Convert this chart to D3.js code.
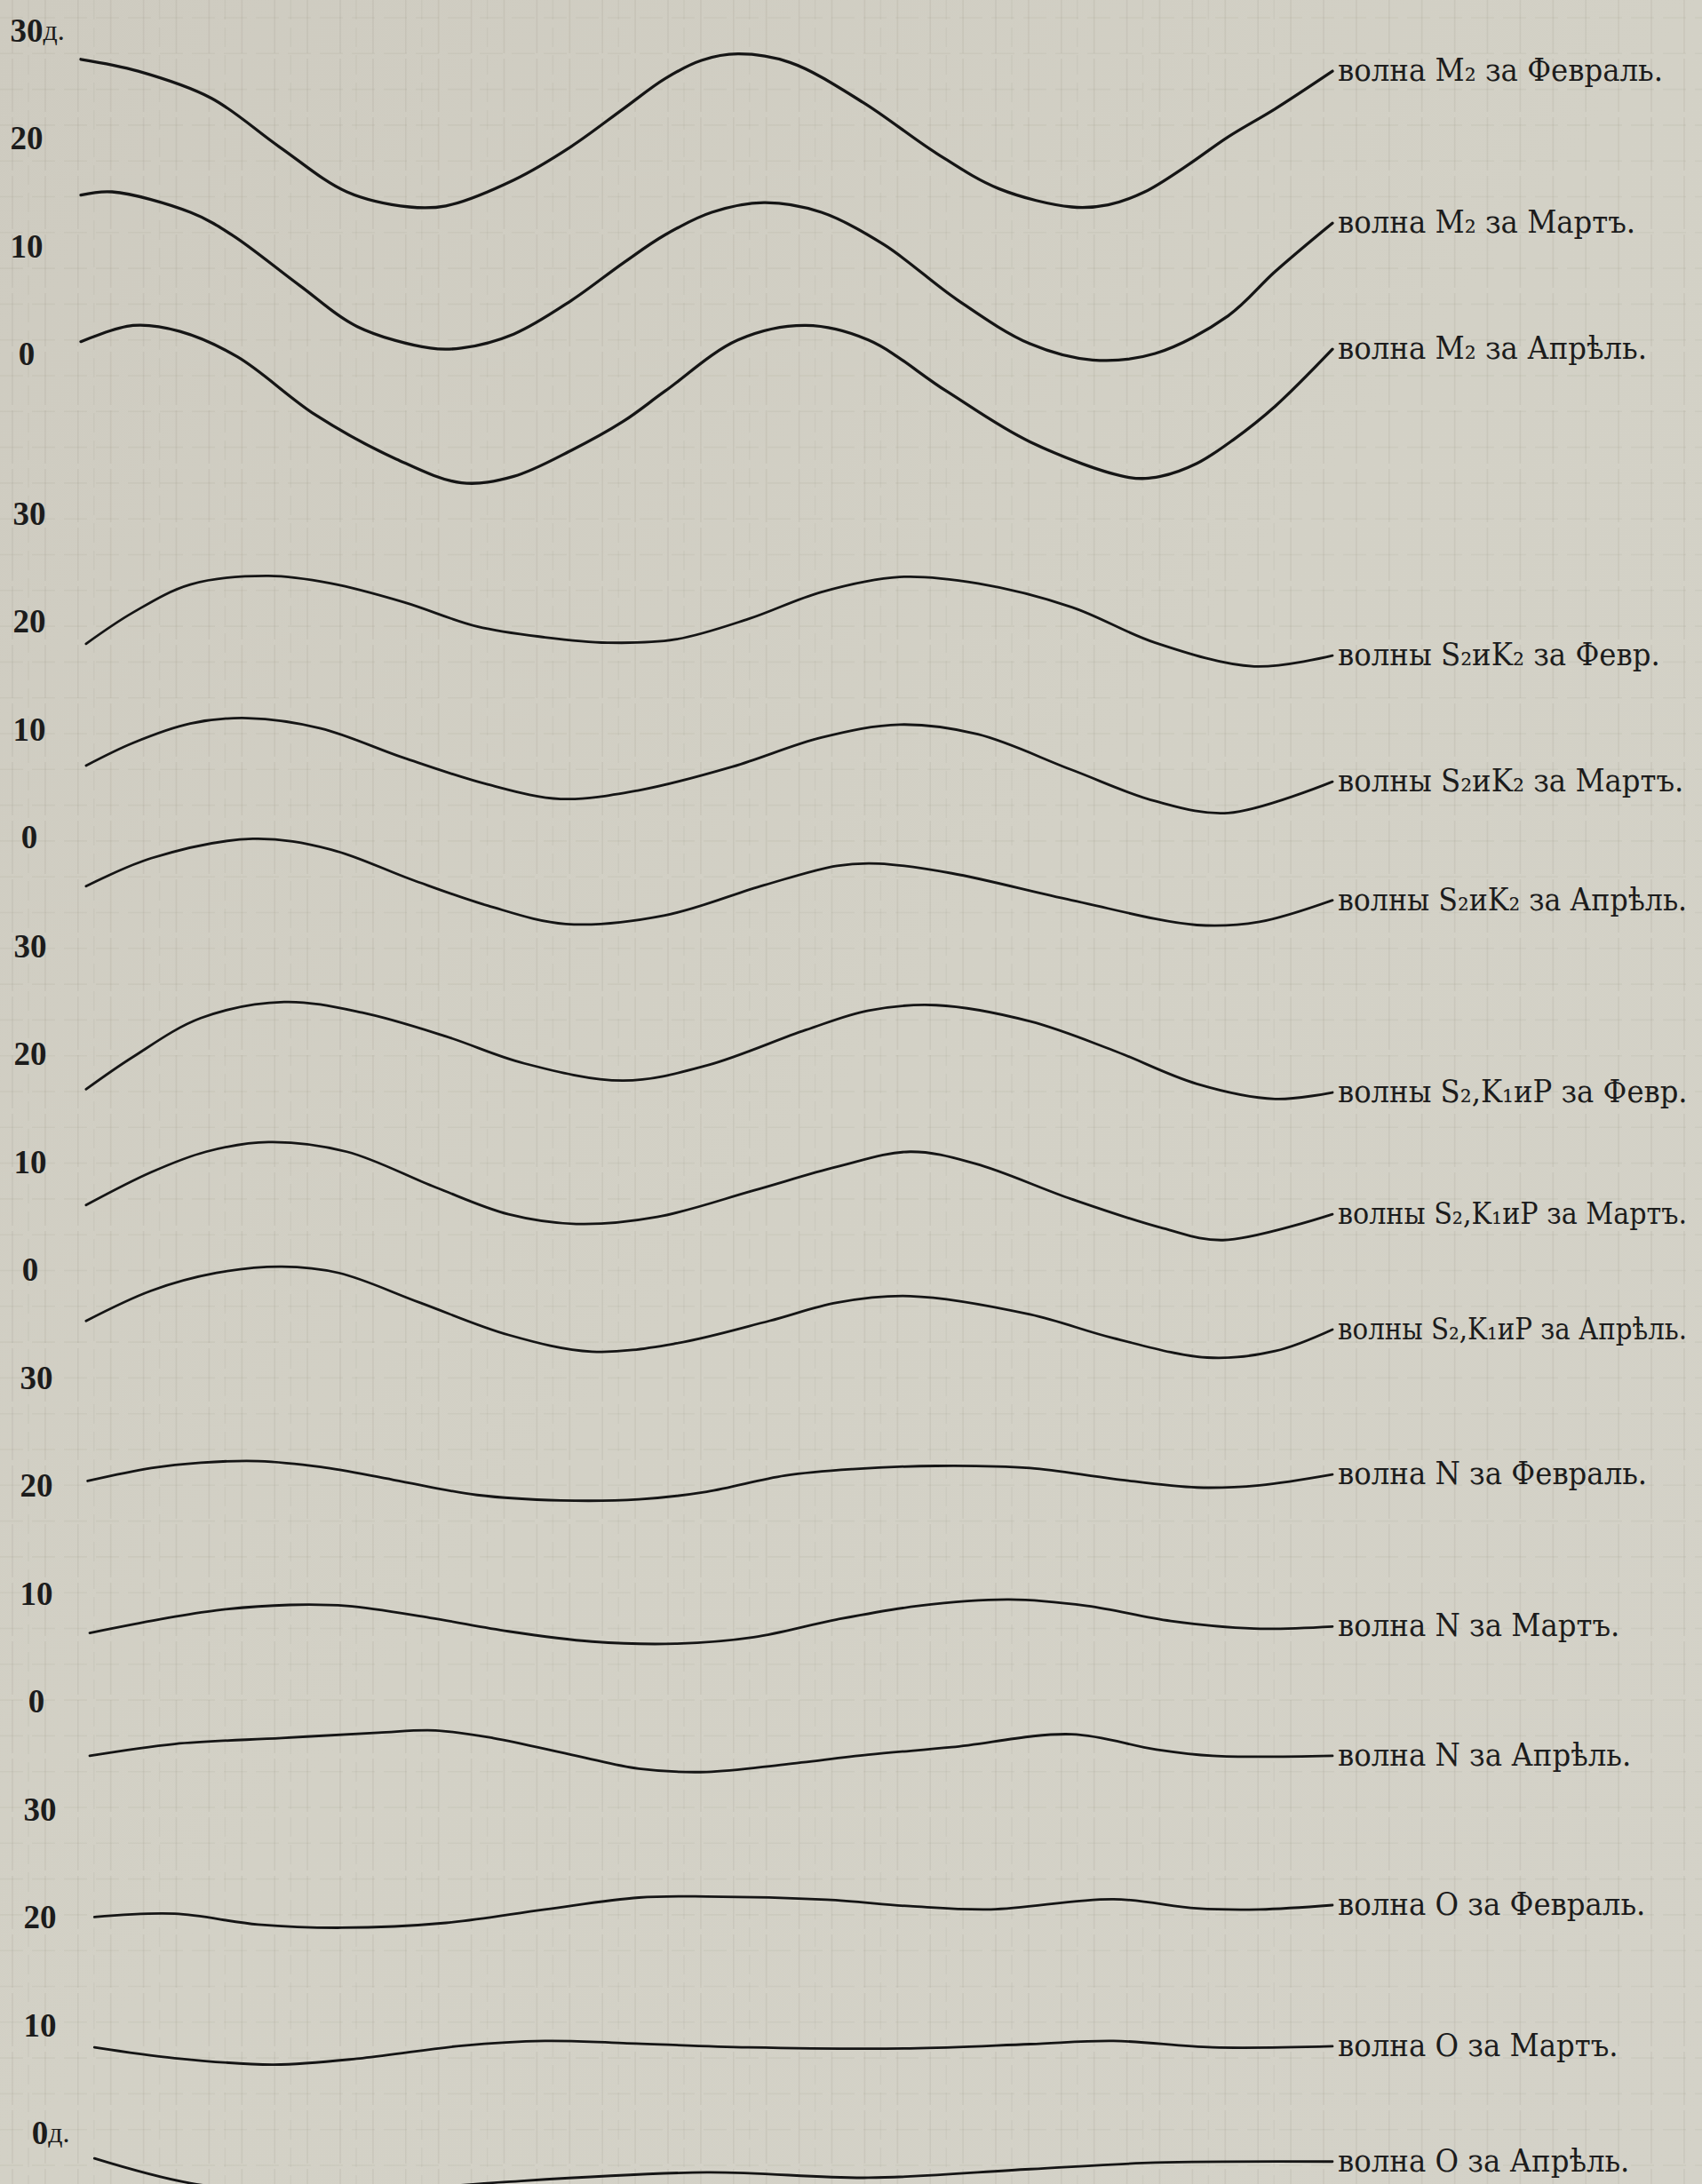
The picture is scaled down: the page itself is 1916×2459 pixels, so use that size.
<!DOCTYPE html>
<html><head><meta charset="utf-8">
<script src="https://cdn.jsdelivr.net/npm/d3@7"></script>
<style>
html,body{margin:0;padding:0;background:#d0cec3;}
svg{display:block}
</style></head><body>
<svg id="chart" width="1916" height="2459"></svg>
<script>
// ---------------- data ----------------
const hourDomain = [0, 24];
const tickValues = [30, 20, 10, 0];
const groupNames = ["M2", "S2K2", "S2K1P", "N", "O"];
const tickLabels = [
  ["30д.", "20", "10", "0"],
  ["30", "20", "10", "0"],
  ["30", "20", "10", "0"],
  ["30", "20", "10", "0"],
  ["30", "20", "10", "0д."]
];

const m2Feb = [[0,27.3],[1.1,26.2],[2.5,23.7],[3.8,19.2],[5.1,15.0],[6.3,13.6],[7.0,13.7],[8.3,16.1],[9.4,19.2],[10.4,22.7],[11.2,25.5],[11.9,27.2],[12.6,27.8],[13.6,27.0],[15.0,23.3],[16.4,18.6],[17.6,15.3],[19.0,13.6],[19.7,13.8],[20.4,15.0],[21.2,17.4],[22.0,20.1],[22.9,22.7],[24,26.2]];
const m2Mar = [[0,14.7],[0.6,15.0],[2.1,13.1],[2.9,11.0],[4.2,6.3],[5.3,2.5],[6.7,0.5],[7.3,0.5],[8.3,1.8],[9.4,4.9],[10.4,8.4],[11.2,11.0],[12.1,13.1],[13.1,14.0],[14.2,13.1],[15.4,10.1],[16.8,5.0],[18.2,0.9],[19.4,-0.6],[20.6,0.0],[22.0,3.5],[22.9,7.6],[24,12.1]];
const m2Apr = [[0,1.1],[1.0,2.6],[1.9,2.05],[3.0,-0.3],[4.5,-5.7],[6.05,-9.8],[7.3,-12.0],[8.3,-11.4],[9.4,-9.0],[10.4,-6.3],[11.2,-3.5],[12.6,1.25],[13.9,2.6],[15.1,1.25],[16.6,-3.5],[18.2,-8.2],[20.1,-11.5],[20.7,-11.4],[21.4,-10.2],[22.1,-8.0],[22.9,-4.9],[24,0.4]];

const s2k2Feb = [[0.1,17.9],[1.0,20.8],[2.1,23.4],[3.6,24.2],[4.8,23.5],[6.2,21.75],[7.6,19.5],[8.9,18.5],[10.1,18.0],[11.4,18.3],[12.8,20.2],[14.2,22.7],[15.7,24.1],[17.2,23.5],[19.0,21.3],[20.6,18.0],[22.5,15.8],[24,16.8]];
const s2k2Mar = [[0.1,6.6],[1.0,8.7],[2.1,10.5],[3.2,11.0],[4.6,10.05],[6.2,7.3],[7.8,4.85],[9.2,3.5],[10.7,4.3],[12.5,6.5],[14.2,9.2],[15.7,10.4],[17.2,9.5],[19.0,6.2],[20.6,3.3],[22.0,2.2],[24,5.1]];
const s2k2Apr = [[0.1,-4.6],[1.35,-2.0],[3.3,-0.2],[4.8,-1.2],[6.35,-4.0],[7.8,-6.4],[9.3,-8.1],[11.2,-7.3],[13.1,-4.5],[14.5,-2.7],[15.3,-2.5],[16.7,-3.4],[19.0,-5.9],[21.4,-8.2],[22.6,-7.9],[24,-5.9]];

const s2k1pFeb = [[0.1,16.7],[1.0,19.7],[2.3,23.3],[3.9,24.8],[5.4,23.8],[7.0,21.6],[8.5,19.1],[10.4,17.5],[12.0,18.9],[13.9,22.2],[15.1,24.0],[16.4,24.5],[18.2,23.0],[19.8,20.3],[21.4,17.2],[22.9,15.8],[24,16.4]];
const s2k1pMar = [[0.1,5.95],[1.35,9.0],[2.4,10.9],[3.6,11.8],[5.1,10.9],[6.8,7.6],[8.2,5.1],[9.5,4.2],[11.05,4.85],[12.9,7.3],[14.5,9.5],[15.9,10.9],[17.15,9.8],[19.0,6.5],[20.75,3.8],[21.9,2.7],[24,5.1]];
const s2k1pApr = [[0.1,-4.8],[1.35,-2.0],[2.6,-0.35],[3.85,0.24],[4.95,-0.35],[6.5,-3.1],[8.2,-6.1],[9.8,-7.65],[11.4,-6.9],[13.2,-4.8],[14.5,-3.1],[15.9,-2.5],[18.2,-4.2],[19.8,-6.4],[21.6,-8.2],[22.9,-7.6],[24,-5.6]];

const nFeb = [[0.13,20.4],[1.35,21.6],[2.3,22.1],[3.4,22.25],[4.6,21.7],[6.0,20.5],[7.6,19.1],[9.2,18.6],[10.7,18.7],[12.0,19.4],[13.5,20.9],[14.8,21.5],[16.4,21.8],[18.2,21.6],[19.8,20.6],[21.4,19.8],[22.6,20.0],[24,21.0]];
const nMar = [[0.17,6.3],[1.5,7.55],[2.6,8.4],[4.0,8.9],[5.1,8.8],[6.7,7.7],[8.2,6.45],[9.8,5.5],[11.4,5.3],[12.9,5.9],[14.5,7.55],[16.05,8.8],[17.8,9.4],[19.3,8.8],[20.9,7.4],[22.5,6.7],[24,6.9]];
const nApr = [[0.17,-5.1],[1.8,-4.0],[3.85,-3.45],[5.7,-2.95],[6.8,-2.75],[7.9,-3.45],[9.5,-5.1],[10.7,-6.3],[12.0,-6.6],[13.5,-5.9],[15.1,-5.0],[16.7,-4.3],[19.0,-3.1],[20.6,-4.5],[21.7,-5.1],[24,-5.1]];

const oFeb = [[0.26,20.0],[1.8,20.3],[3.4,19.3],[5.0,19.0],[7.0,19.45],[8.9,20.7],[10.7,21.8],[12.0,21.9],[14.3,21.6],[15.9,21.0],[17.45,20.7],[19.8,21.65],[21.4,20.8],[22.6,20.7],[24,21.1]];
const oMar = [[0.26,7.9],[1.8,6.9],[3.7,6.3],[5.4,6.9],[7.3,8.05],[8.9,8.5],[10.4,8.3],[12.8,7.9],[15.9,7.8],[18.2,8.2],[19.8,8.5],[21.7,7.9],[24,8.0]];
const oApr = [[0.26,-2.4],[2.1,-4.7],[4.5,-5.8],[6.5,-5.2],[8.1,-4.6],[12.0,-3.7],[15.1,-4.2],[18.2,-3.4],[20.6,-2.8],[24,-2.7]];

const seriesGroups = [0,0,0, 1,1,1, 2,2,2, 3,3,3, 4,4,4];
const seriesLabels = [
  "волна M₂ за Февраль.", "волна M₂ за Мартъ.", "волна M₂ за Апрѣль.",
  "волны S₂иK₂ за Февр.", "волны S₂иK₂ за Мартъ.", "волны S₂иK₂ за Апрѣль.",
  "волны S₂,K₁иP за Февр.", "волны S₂,K₁иP за Мартъ.", "волны S₂,K₁иP за Апрѣль.",
  "волна N за Февраль.", "волна N за Мартъ.", "волна N за Апрѣль.",
  "волна O за Февраль.", "волна O за Мартъ.", "волна O за Апрѣль."
];
const seriesValues = [m2Feb, m2Mar, m2Apr, s2k2Feb, s2k2Mar, s2k2Apr, s2k1pFeb, s2k1pMar, s2k1pApr, nFeb, nMar, nApr, oFeb, oMar, oApr];

// ---------------- layout ----------------
const W = 1916, H = 2459;
const xRange = [91, 1500];
const groupRanges = [[398,34],[942,578],[1429,1065],[1915,1551],[2401,2037]];
const tickX = [30, 33, 34, 41, 45];
const labelMaxRight = 1900;
const labelFont = 36;

const svg = d3.select("#chart");
const x = d3.scaleLinear().domain(hourDomain).range(xRange);
const yScales = groupRanges.map(r => d3.scaleLinear().domain([0, 30]).range(r));

// paper background
const defs = svg.append("defs");
const grad = defs.append("linearGradient").attr("id","paper").attr("x1",0).attr("y1",0).attr("x2",1).attr("y2",1);
grad.append("stop").attr("offset","0%").attr("stop-color","#cecbc0");
grad.append("stop").attr("offset","50%").attr("stop-color","#d3d1c6");
grad.append("stop").attr("offset","100%").attr("stop-color","#d4d2c8");
svg.append("rect").attr("width",W).attr("height",H).attr("fill","url(#paper)");

// faint bleed-through grid
const grid = svg.append("g").attr("stroke","#8a8673").attr("fill","none");
grid.selectAll("line.v1").data(d3.range(14, W, 36.9)).join("line")
  .attr("x1",d=>d).attr("x2",d=>d).attr("y1",0).attr("y2",H)
  .attr("stroke-opacity",0.13).attr("stroke-width",1.6).attr("stroke-dasharray","60 6");
grid.selectAll("line.v2").data(d3.range(32, 1500, 73.8)).join("line")
  .attr("x1",d=>d).attr("x2",d=>d).attr("y1",0).attr("y2",H)
  .attr("stroke-opacity",0.09).attr("stroke-width",1.4).attr("stroke-dasharray","22 9");
grid.selectAll("line.h1").data(d3.range(20, H, 40.3)).join("line")
  .attr("x1",0).attr("x2",W).attr("y1",d=>d).attr("y2",d=>d)
  .attr("stroke-opacity",0.09).attr("stroke-width",1.6).attr("stroke-dasharray","26 10");

// left axis labels
const axisG = svg.append("g").attr("font-family","'Liberation Serif','DejaVu Serif',serif")
  .attr("font-weight","bold").attr("font-size",37).attr("fill","#1c1c1c");
tickLabels.forEach((labels, gi) => {
  labels.forEach((lab, ti) => {
    const m = lab.match(/^(\d+)(.*)$/);
    const y = yScales[gi](tickValues[ti]);
    const t = axisG.append("text").attr("y", y).attr("dominant-baseline","central");
    const num = t.append("tspan").text(m[1]);
    const w = num.node().getComputedTextLength();
    t.attr("x", tickX[gi] - w/2);
    if (m[2]) t.append("tspan").attr("font-size",32).attr("font-weight","normal").text(m[2]);
  });
});

// curves
const line = d3.line().x(d => x(d[0])).y(d => d.y).curve(d3.curveCatmullRom.alpha(0.5));
const curveG = svg.append("g").attr("fill","none").attr("stroke","#151515")
  .attr("stroke-linecap","round").attr("stroke-linejoin","round");
seriesValues.forEach((vals, i) => {
  const ys = yScales[seriesGroups[i]];
  const pts = vals.map(d => { const p = [d[0], d[1]]; p.y = ys(d[1]); return p; });
  curveG.append("path").attr("d", line(pts))
    .attr("stroke-width", seriesGroups[i] === 0 ? 3.3 : 2.8);
});

// right labels
const labG = svg.append("g")
  .attr("font-family","'DejaVu Serif Condensed','DejaVu Serif',serif")
  .attr("font-stretch","condensed").attr("fill","#1c1c1c");
seriesValues.forEach((vals, i) => {
  const last = vals[vals.length - 1];
  const ys = yScales[seriesGroups[i]];
  const lx = x(last[0]) + 6;
  const t = labG.append("text").attr("x", lx).attr("y", ys(last[1]) + 11)
    .attr("font-size", labelFont).text(seriesLabels[i]);
  const natural = t.node().getComputedTextLength();
  const maxW = labelMaxRight - lx;
  if (natural > maxW) t.attr("font-size", Math.floor(labelFont * maxW / natural * 10) / 10);
});
</script>
</body></html>
